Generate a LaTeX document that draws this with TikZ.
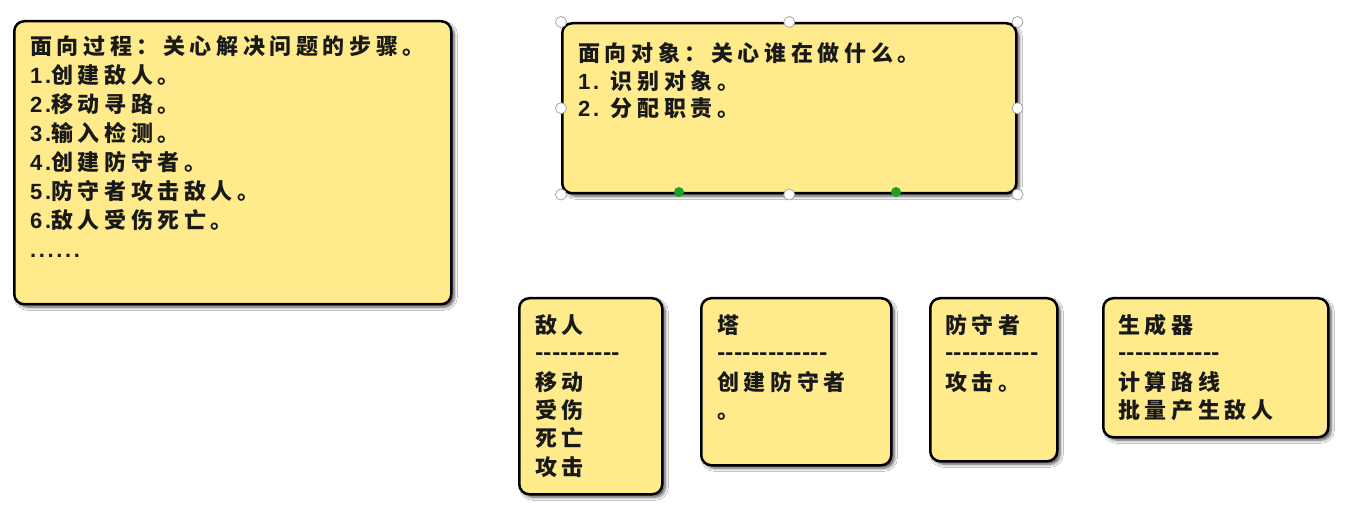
\documentclass[tikz,border=0pt]{standalone}
\usepackage{fontspec}
\usetikzlibrary{shadows.blur}
\newfontfamily\cjk{Noto Sans CJK SC}[LetterSpace=21]
\newfontfamily\lat{Liberation Sans}[LetterSpace=12]
\newcommand\la[1]{{\lat #1}}
\definecolor{noteyellow}{RGB}{255,235,140}
\definecolor{inkblack}{RGB}{25,25,25}
\definecolor{handlegreen}{RGB}{30,160,40}
\newcommand\dashrow[1]{\foreach \k in {1,...,#1}{\makebox[8.5pt]{-}}}
\tikzset{
  note/.style={draw=black, line width=2.5pt, rounded corners=10pt, fill=noteyellow,
    inner sep=0pt, anchor=north west,
    blur shadow={shadow xshift=3pt, shadow yshift=-3pt, shadow blur radius=3pt, shadow opacity=65}},
  txt/.style={anchor=base west, inner sep=0pt, text=inkblack,
    font=\cjk\bfseries\fontsize{22}{26}\selectfont},
  handle/.style={circle, draw=gray!70, fill=white, minimum size=11pt, inner sep=0pt, line width=0.8pt},
  ghandle/.style={circle, fill=handlegreen, minimum size=10pt, inner sep=0pt}
}
\begin{document}
\begin{tikzpicture}[x=1pt,y=-1pt]
\useasboundingbox[fill=white] (0,0) rectangle (1353,513);

% boxes
\node[note, minimum width=437pt, minimum height=283pt] (proc) at (13,20) {};
\node[note, minimum width=454pt, minimum height=170pt] (obj) at (561,22) {};
\node[note, minimum width=143pt, minimum height=196pt] (enemy) at (518,297) {};
\node[note, minimum width=190pt, minimum height=167pt] (tower) at (700,297) {};
\node[note, minimum width=127pt, minimum height=163pt] (defender) at (929,297) {};
\node[note, minimum width=225pt, minimum height=139pt] (spawner) at (1102,297) {};

% procedural text
\node[txt] (p0) at (30,55) {面向过程：关心解决问题的步骤。};
\node[txt] (p1) at (30,84) {\la{1.}创建敌人。};
\node[txt] (p2) at (30,113) {\la{2.}移动寻路。};
\node[txt] (p3) at (30,142) {\la{3.}输入检测。};
\node[txt] (p4) at (30,171) {\la{4.}创建防守者。};
\node[txt] (p5) at (30,200) {\la{5.}防守者攻击敌人。};
\node[txt] (p6) at (30,229) {\la{6.}敌人受伤死亡。};
\node[txt] (p7) at (30,258) {\la{......}};

% object text
\node[txt] (o0) at (578,62) {面向对象：关心谁在做什么。};
\node[txt] (o1) at (578,90) {\la{1. }识别对象。};
\node[txt] (o2) at (578,117) {\la{2. }分配职责。};

% enemy
\node[txt] (e0) at (535,334) {敌人};
\node[txt] (e1) at (535,360) {\dashrow{10}};
\node[txt] (e2) at (535,390) {移动};
\node[txt] (e3) at (535,418) {受伤};
\node[txt] (e4) at (535,446) {死亡};
\node[txt] (e5) at (535,475) {攻击};

% tower
\node[txt] (t0) at (717,334) {塔};
\node[txt] (t1) at (717,360) {\dashrow{13}};
\node[txt] (t2) at (717,390) {创建防守者};
\node[txt] (t3) at (717,418) {。};

% defender
\node[txt] (d0) at (945,334) {防守者};
\node[txt] (d1) at (945,360) {\dashrow{11}};
\node[txt] (d2) at (945,390) {攻击。};

% spawner
\node[txt] (s0) at (1118,334) {生成器};
\node[txt] (s1) at (1118,360) {\dashrow{12}};
\node[txt] (s2) at (1118,390) {计算路线};
\node[txt] (s3) at (1118,418) {批量产生敌人};

% selection handles
\node[handle] (hnw) at (obj.north west) {};
\node[handle] (hn) at (obj.north) {};
\node[handle] (hne) at (obj.north east) {};
\node[handle] (hw) at (obj.west) {};
\node[handle] (he) at (obj.east) {};
\node[handle] (hsw) at (obj.south west) {};
\node[handle] (hs) at (obj.south) {};
\node[handle] (hse) at (obj.south east) {};
\node[ghandle] (g1) at (679,192) {};
\node[ghandle] (g2) at (896,192) {};
\end{tikzpicture}
\end{document}
